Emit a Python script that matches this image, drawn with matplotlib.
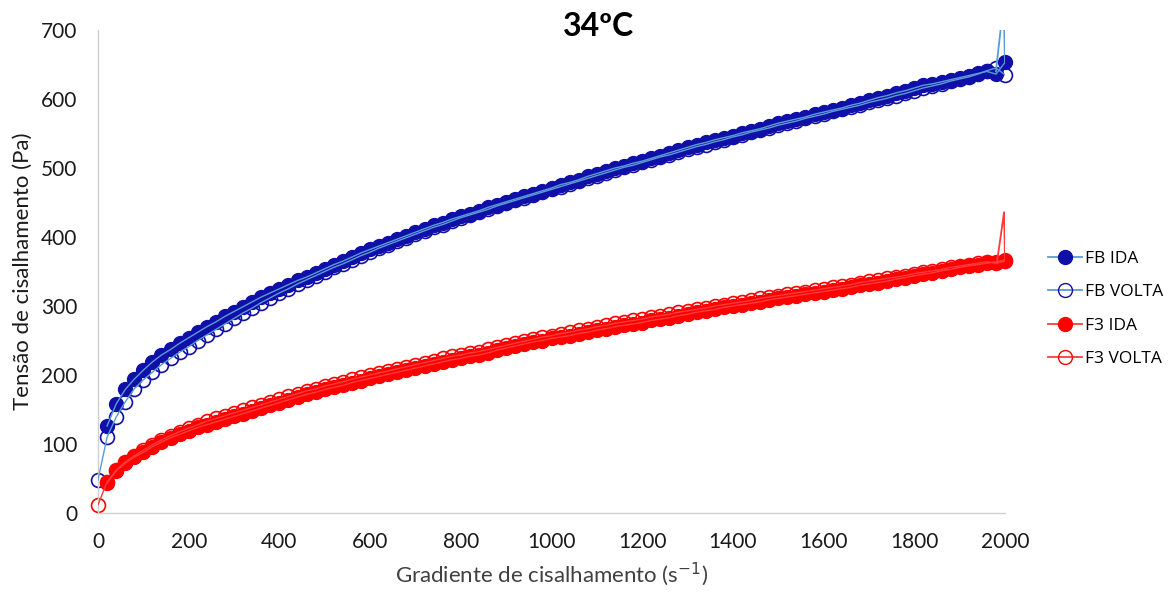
import numpy as np
import matplotlib
matplotlib.use("Agg")
import matplotlib.pyplot as plt
from matplotlib.lines import Line2D

plt.rcParams['font.family'] = ['Lato', 'DejaVu Sans']

# shear rate (1/s)
x_ida = list(range(20, 2001, 20))
x_volta = list(range(0, 2001, 20))

# shear stress (Pa)
fb_ida = [126, 158, 179, 194, 207, 219, 229, 237, 246, 254,
          262, 270, 277, 285, 292, 299, 306, 313, 319, 325,
          331, 337, 342, 348, 354, 360, 365, 371, 377, 382,
          387, 392, 397, 402, 407, 412, 417, 421, 426, 430,
          434, 438, 443, 447, 451, 455, 459, 463, 467, 471,
          476, 479, 483, 488, 492, 496, 500, 503, 507, 510,
          514, 518, 522, 526, 530, 534, 537, 541, 544, 547,
          551, 554, 557, 561, 565, 568, 571, 574, 578, 581,
          584, 587, 591, 594, 598, 602, 605, 609, 612, 616,
          620, 622, 625, 628, 631, 634, 637, 640, 636, 653]

fb_volta = [48, 110, 139, 161, 180, 193, 204, 215, 224, 233, 241,
            250, 258, 266, 274, 282, 290, 297, 305, 312, 319,
            325, 332, 338, 344, 350, 356, 361, 367, 373, 378,
            384, 389, 394, 399, 404, 409, 414, 418, 423, 428,
            432, 436, 440, 445, 449, 453, 457, 461, 465, 469,
            473, 477, 481, 485, 489, 493, 497, 501, 504, 508,
            512, 516, 519, 523, 527, 531, 534, 538, 541, 545,
            548, 552, 555, 558, 562, 565, 568, 572, 575, 578,
            582, 585, 588, 591, 595, 598, 601, 605, 608, 612,
            616, 619, 622, 626, 629, 632, 636, 641, 645, 635]

f3_ida = [43, 61, 72, 81, 88, 96, 103, 109, 114, 119,
          124, 128, 132, 136, 140, 144, 148, 152, 156, 160,
          164, 168, 172, 175, 179, 182, 185, 189, 192, 195,
          198, 201, 204, 207, 210, 213, 216, 219, 222, 224,
          227, 229, 232, 236, 239, 242, 245, 248, 250, 253,
          255, 257, 260, 262, 265, 267, 270, 272, 274, 276,
          279, 281, 283, 286, 288, 291, 293, 295, 298, 300,
          302, 304, 306, 309, 311, 313, 315, 317, 319, 321,
          323, 325, 327, 330, 332, 334, 336, 339, 341, 344,
          346, 348, 351, 353, 356, 358, 360, 362, 364, 367]

f3_volta = [12, 45, 62, 74, 83, 91, 99, 106, 112, 118, 123,
            128, 133, 137, 141, 145, 149, 153, 157, 161, 165,
            169, 173, 177, 180, 184, 187, 190, 194, 197, 200,
            203, 206, 209, 212, 215, 218, 221, 224, 227, 229,
            232, 234, 237, 240, 243, 246, 249, 252, 255, 257,
            260, 262, 265, 267, 270, 272, 275, 277, 279, 281,
            284, 286, 288, 291, 293, 295, 297, 300, 302, 304,
            306, 308, 311, 313, 315, 317, 319, 321, 323, 325,
            327, 329, 331, 334, 336, 338, 340, 342, 344, 347,
            349, 351, 353, 356, 358, 360, 362, 364, 362, 365]

# overshoot of the smoothed line at the end of each curve
fb_spike_x = [1980, 1997, 2000]
fb_spike_y = [640, 740, 653]
f3_spike_x = [1982, 1998, 2000]
f3_spike_y = [362, 436, 366]

dark_blue = '#1010a8'
light_blue = '#5b9bd5'
red = '#ff0000'
red_line = '#ff3b3b'

fig = plt.figure(figsize=(11.75, 5.92), dpi=100)
ax = fig.add_axes([98 / 1175, 79 / 592, 907 / 1175, 483 / 592])

ms = 10
# markers
ax.plot(x_ida, fb_ida, 'o', ms=ms, color=dark_blue, zorder=2, clip_on=False)
ax.plot(x_volta, fb_volta, 'o', ms=ms, mfc='none', mec=dark_blue, mew=1.2, zorder=2, clip_on=False)
ax.plot(x_ida, f3_ida, 'o', ms=ms, color=red, zorder=2, clip_on=False)
ax.plot(x_volta, f3_volta, 'o', ms=ms, mfc='none', mec=red, mew=1.2, zorder=2, clip_on=False)
# connecting lines on top
lw = 1.0
ax.plot(x_ida, fb_ida, '-', lw=lw, color=light_blue, zorder=3)
ax.plot(x_volta, fb_volta, '-', lw=lw, color=light_blue, zorder=3)
ax.plot(fb_spike_x, fb_spike_y, '-', lw=1.3, color=light_blue, zorder=3)
ax.plot(x_ida, f3_ida, '-', lw=lw, color=red_line, zorder=3)
ax.plot(x_volta, f3_volta, '-', lw=lw, color=red_line, zorder=3)
ax.plot(f3_spike_x, f3_spike_y, '-', lw=1.3, color=red_line, zorder=3)

ax.set_xlim(0, 2000)
ax.set_ylim(0, 700)
ax.set_xticks(np.arange(0, 2001, 200))
ax.set_yticks(np.arange(0, 701, 100))
ax.tick_params(length=0, labelsize=15, colors='#1a1a1a')
ax.tick_params(axis='y', pad=15)
ax.tick_params(axis='x', pad=14)
for s in ['top', 'right']:
    ax.spines[s].set_visible(False)
for s in ['left', 'bottom']:
    ax.spines[s].set_color('#d0d0d0')
    ax.spines[s].set_linewidth(1)

ax.set_xlabel('Gradiente de cisalhamento (s$^{-1}$)', fontsize=16, color='#404040', labelpad=6)
ax.set_ylabel('Tensão de cisalhamento (Pa)', fontsize=16, color='#1a1a1a', labelpad=6)

fig.text(598 / 1175, 1 - 27 / 592, '34ºC', ha='center', va='center',
         fontsize=23, fontweight='bold', color='black')

handles = [
    Line2D([], [], color=light_blue, lw=1.3, marker='o', ms=10, mfc=dark_blue, mec=dark_blue),
    Line2D([], [], color=light_blue, lw=1.3, marker='o', ms=10, mfc='none', mec=dark_blue),
    Line2D([], [], color=red_line, lw=1.3, marker='o', ms=10, mfc=red, mec=red),
    Line2D([], [], color=red_line, lw=1.3, marker='o', ms=10, mfc='none', mec=red),
]
fig.legend(handles, ['FB IDA', 'FB VOLTA', 'F3 IDA', 'F3 VOLTA'],
           loc='center left', bbox_to_anchor=(1032 / 1175, 1 - 309 / 592),
           frameon=False, handlelength=2.0, handletextpad=0.15,
           labelspacing=1.0, prop={'family': ['Open Sans', 'DejaVu Sans'], 'size': 12.5})

fig.savefig('out.png', dpi=100)
